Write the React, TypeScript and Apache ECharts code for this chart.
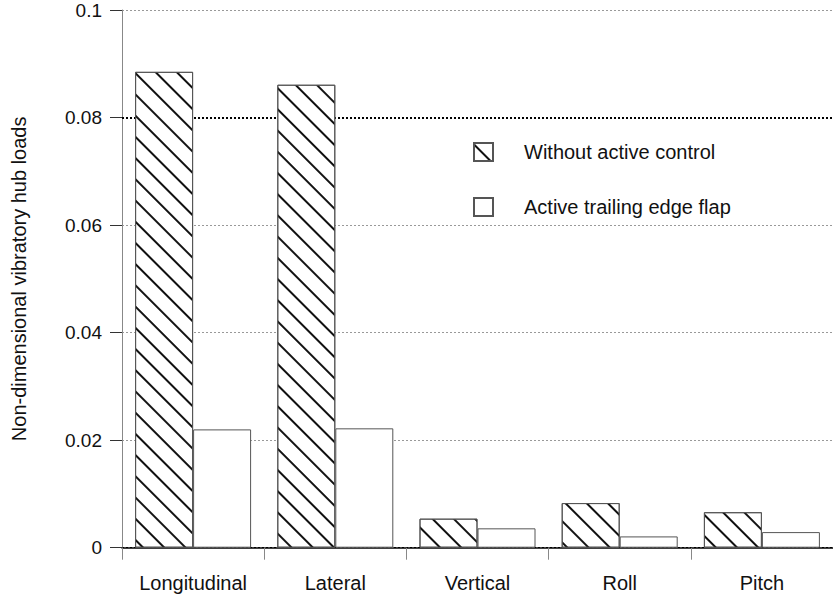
import React, { useEffect, useRef } from "react";
import * as echarts from "echarts";

const categories = ["Longitudinal", "Lateral", "Vertical", "Roll", "Pitch"];
const withoutControl = [0.0885, 0.0861, 0.0054, 0.0083, 0.0066];
const withFlap = [0.022, 0.0222, 0.0036, 0.0021, 0.0029];
const seriesNames = ["Without active control", "Active trailing edge flap"];
const yName = "Non-dimensional vibratory hub loads";

export default function App() {
  const ref = useRef<HTMLDivElement>(null);
  useEffect(() => {
    if (!ref.current) return;
    const chart = echarts.init(ref.current, null, { renderer: "svg" });
    const font = "'Liberation Sans', Arial, sans-serif";
    chart.setOption({
      animation: false,
      backgroundColor: "#fff",
      textStyle: { fontFamily: font },
      grid: { left: 122, top: 10, width: 716, height: 537.7 },
      legend: {
        orient: "vertical",
        left: 473,
        top: 142,
        padding: 0,
        icon: "rect",
        itemWidth: 19,
        itemHeight: 18,
        itemGap: 35,
        data: seriesNames,
        textStyle: {
          fontFamily: font,
          fontSize: 20,
          color: "#111",
          padding: [0, 0, 0, 26],
        },
      },
      xAxis: {
        type: "category",
        data: categories,
        boundaryGap: true,
        axisLine: { lineStyle: { color: "#000", width: 1.5 } },
        axisTick: { show: true, length: 12, lineStyle: { color: "#888" } },
        axisLabel: {
          fontFamily: font,
          fontSize: 20,
          color: "#111",
          margin: 25,
        },
        splitLine: { show: false },
      },
      yAxis: {
        type: "value",
        min: 0,
        max: 0.1,
        interval: 0.02,
        name: yName,
        nameLocation: "middle",
        nameGap: 93,
        nameTextStyle: { fontFamily: font, fontSize: 20, color: "#111" },
        axisLine: { show: true, lineStyle: { color: "#888", width: 1 } },
        axisTick: { show: true, length: 12, lineStyle: { color: "#333" } },
        axisLabel: {
          fontFamily: font,
          fontSize: 19,
          color: "#111",
          margin: 20,
          padding: [10, 0, 0, 0],
        },
        splitLine: {
          show: true,
          lineStyle: {
            color: ["#000", "#999", "#999", "#999", "#000", "#999"],
            type: [2, 2],
            width: 1,
          },
        },
      },
      series: [
        {
          name: seriesNames[0],
          type: "bar",
          data: withoutControl,
          barWidth: 58,
          barGap: "0%",
          z: 3,
          itemStyle: {
            color: "#fff",
            borderColor: "#555",
            borderWidth: 1,
            decal: {
              symbol: "rect",
              symbolSize: 1,
              color: "#111",
              dashArrayX: [1, 0],
              dashArrayY: [2, 12.1],
              rotation: Math.PI / 4,
            },
          },
          markLine: {
            silent: true,
            symbol: ["none", "none"],
            z: 1,
            label: { show: false },
            lineStyle: { color: "#000", type: [2, 2], width: 2 },
            data: [{ yAxis: 0.08 }],
          },
        },
        {
          name: seriesNames[1],
          type: "bar",
          data: withFlap,
          barWidth: 58,
          barGap: "0%",
          z: 3,
          itemStyle: { color: "#fff", borderColor: "#555", borderWidth: 1 },
        },
      ],
    });
    return () => chart.dispose();
  }, []);
  return <div ref={ref} style={{ width: 833, height: 597, position: "absolute", left: 0, top: 0 }} />;
}
